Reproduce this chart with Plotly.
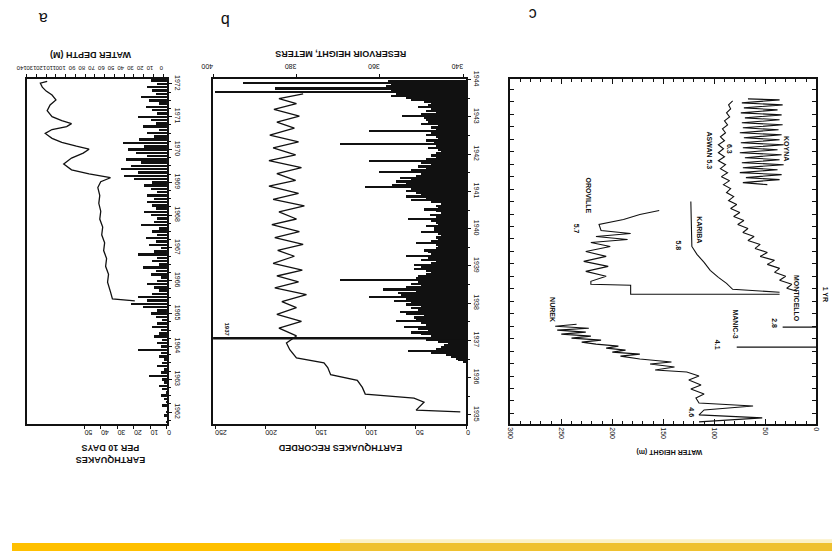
import numpy as np
import plotly.graph_objects as go

W, H = 836, 551
FONT = "Liberation Sans Narrow, Liberation Sans, Arial"
INK = "#111111"


def px(x):
    return x / W


def py(y):
    return 1 - y / H


# ---------------- Panel a : water depth + earthquakes per 10 days ----------------
a_years = [1965.39, 1965.45, 1965.66, 1965.96, 1966.2, 1966.44, 1966.68, 1966.92, 1967.16, 1967.4,
           1967.64, 1967.88, 1968.12, 1968.36, 1968.6, 1968.84, 1969.02, 1969.14, 1969.26, 1969.38,
           1969.56, 1969.74, 1969.89, 1970.01, 1970.1, 1970.22, 1970.34, 1970.49, 1970.61, 1970.7,
           1970.79, 1970.88, 1971.0, 1971.18, 1971.36, 1971.51, 1971.66, 1971.78, 1971.9, 1972.02,
           1972.08]
a_depth = [29, 52, 54, 57, 56, 59, 58, 61, 60, 63,
           62, 65, 64, 66, 65, 67, 64, 54, 76, 94,
           102, 94, 82, 76, 89, 104, 114, 121, 114, 99,
           94, 104, 114, 119, 116, 110, 114, 120, 124, 126,
           119]
a_eq_first_bin = 1961.7
a_eq_bin = 0.1
a_eq_counts = [1, 0, 2, 1, 0, 3, 1,
               2, 4, 1, 3, 5, 2, 3, 11, 4, 2, 6, 3, 2, 5, 4, 18,
               4, 6, 3, 8, 5, 4, 9, 6, 3, 7, 10, 6,
               15, 22, 12, 18, 9,
               5, 8, 12, 6, 4, 10, 7, 15, 5, 9, 6, 18, 8, 4, 11, 7, 13, 6, 9, 5, 16, 8, 6, 10, 14, 7, 9, 12,
               8, 12, 6, 10, 14, 9,
               20, 26, 18, 28, 22, 16, 25, 12, 19, 24, 14, 27, 17,
               8, 12, 5, 15, 7, 10, 18, 6, 9, 13, 5, 11, 16, 7, 9, 12, 6, 10]
a_eq_years = np.round(a_eq_first_bin + a_eq_bin * np.arange(len(a_eq_counts)), 3)
a_year_ticks = list(range(1962, 1973))
a_depth_ticks = list(range(0, 150, 10))
a_eq_ticks = [0, 10, 20, 30, 40, 50]

# ---------------- Panel b : reservoir height + earthquakes recorded ----------------
b_years = [1935.08, 1935.13, 1935.34, 1935.45, 1935.56, 1935.74, 1935.93, 1936.08, 1936.27, 1936.40,
           1936.53, 1936.75, 1936.93, 1937.12,
           1937.33, 1937.51, 1937.70, 1937.88, 1938.04, 1938.23, 1938.41, 1938.57, 1938.73, 1938.89,
           1939.07, 1939.26, 1939.42, 1939.58, 1939.76, 1939.92, 1940.11, 1940.26, 1940.45, 1940.61,
           1940.79, 1940.95, 1941.14, 1941.30, 1941.48, 1941.64, 1941.83, 1941.98, 1942.17, 1942.33,
           1942.51, 1942.70, 1942.86, 1943.02, 1943.20, 1943.36, 1943.49, 1943.62]
b_height = [340.7, 351.3, 349.4, 351.8, 363.5, 364.2, 365.4, 371.8, 372.5, 373.4,
            380.0, 381.6, 382.4, 380.0,
            384.2, 378.8, 384.7, 380.0, 383.5, 377.6, 385.2, 379.5, 384.7, 378.6,
            385.6, 380.5, 384.5, 378.4, 385.2, 379.3, 385.9, 380.0, 384.2, 378.1,
            385.6, 379.5, 386.6, 380.2, 384.7, 378.8, 386.6, 380.2, 385.6, 379.5,
            386.4, 380.5, 384.7, 379.3, 385.4, 380.0, 384.2, 378.4]
b_eq_first_bin = 1936.425
b_eq_bin = 0.05
b_eq_counts = [
    3, 8, 10, 15,
    20, 35, 58, 30, 25, 22, 18, 28,
    40, 30, 35, 45, 55, 38, 48, 62, 40, 45, 70, 50, 52, 42, 60, 66, 48, 55, 45, 60,
    55, 72, 60, 97, 65, 68, 50, 83, 60, 45, 55, 48, 126, 50, 48, 40, 35, 40, 52, 45,
    52, 35, 30, 45, 38, 60, 35, 38, 42, 30, 28, 30, 50, 35, 28, 30, 25, 28, 45, 32,
    32, 40, 28, 30, 35, 58, 30, 36, 25, 30, 42, 28, 30, 25, 35, 55, 40, 60, 45, 50,
    60, 55, 101, 74, 60, 70, 55, 66, 50, 45, 87, 55, 40, 48, 35, 45, 97, 40, 30, 35,
    30, 25, 28, 38, 30, 126, 32, 40, 28, 30, 40, 35, 97, 30, 35, 28, 45, 38, 40, 42,
    64, 45, 30, 40, 35, 48, 38, 35, 42, 55, 60, 75, 70, 250, 75, 190, 80, 75, 222, 78]
b_eq_years = np.round(b_eq_first_bin + b_eq_bin * np.arange(len(b_eq_counts)), 3)
b_year_ticks = list(range(1935, 1945))
b_height_ticks = [340, 360, 380, 400]
b_eq_ticks = [0, 50, 100, 150, 200, 250]
b_marker_year = 1937.06

# ---------------- Panel c : water height vs time for several reservoirs ----------------
nurek_t = [-12.1, -11.7, -11.4, -10.9, -10.5, -10.2, -9.7, -9.3, -8.8, -8.4, -7.9, -7.5, -7.1, -6.9, -6.6,
           -6.3, -6.1, -5.8, -5.5, -5.3, -5.1, -4.9, -4.7, -4.5, -4.3, -4.1, -3.9, -3.7, -3.5, -3.3,
           -3.1, -2.9, -2.7, -2.5, -2.3]
nurek_h = [115, 53, 115, 110, 62, 115, 118, 110, 123, 113, 125, 115, 127, 158, 139,
           163, 142, 173, 192, 173, 200, 187, 206, 194, 216, 230, 211, 240, 221, 250,
           226, 254, 223, 256, 235]
oroville_t = [0.7, 0.7, 1.6, 1.7, 2.0, 2.5, 3.0, 3.5, 4.0, 4.5, 5.0, 5.5, 5.9, 6.2, 6.5, 6.8, 7.1, 7.7,
              8.2, 8.7, 9.1]
oroville_h = [36, 182, 182, 221, 221, 206, 226, 204, 228, 206, 226, 202, 221, 185, 216, 182, 211, 213,
              189, 173, 154]
kariba_t = [0.9, 1.2, 1.8, 2.4, 3.1, 3.9, 4.7, 5.5, 10.0]
kariba_h = [36, 82, 88, 96, 104, 110, 117, 122, 123]
aswan_t = [1.0, 1.3, 1.7, 2.1, 2.5, 2.9, 3.3, 3.7, 4.1, 4.5, 4.9, 5.3, 5.7, 6.1, 6.5, 6.9, 7.3, 7.7,
           8.1, 8.5, 8.9, 9.3, 9.7, 10.1, 10.5, 10.9, 11.3, 11.7, 12.1, 12.5, 12.9, 13.3, 13.7, 14.1,
           14.5, 14.9, 15.3, 15.7, 16.1, 16.5, 16.9, 17.3, 17.7, 18.1, 18.5, 18.9, 19.3, 19.7, 20.1]
aswan_h = [19, 29, 24, 36, 30, 41, 36, 48, 41, 55, 48, 60, 55, 67, 61, 72, 67, 77, 71, 81,
           75, 84, 78, 86, 81, 88, 84, 91, 85, 93, 87, 94, 89, 96, 90, 96, 91, 96, 90, 94,
           89, 92, 87, 90, 85, 88, 84, 86, 82]
koyna_t = [11.7, 11.9, 12.2, 12.4, 12.7, 12.9, 13.2, 13.4, 13.7, 13.9, 14.2, 14.4, 14.7, 14.9, 15.2,
           15.4, 15.7, 15.9, 16.2, 16.4, 16.7, 16.9, 17.2, 17.4, 17.7, 17.9, 18.2, 18.4, 18.7, 18.9,
           19.2, 19.4, 19.7, 19.9, 20.2, 20.3]
koyna_h = [48, 72, 36, 69, 34, 75, 38, 72, 32, 73, 36, 70, 34, 75, 38, 72, 32, 74, 36, 71,
           34, 75, 37, 72, 33, 73, 36, 70, 34, 74, 38, 71, 33, 73, 36, 67]
manic_t = [-4.6, -4.6]
manic_h = [0, 78]
monticello_t = [-2.6, -2.6]
monticello_h = [0, 33]
c_height_ticks = [0, 50, 100, 150, 200, 250, 300]

fig = go.Figure()
line = dict(color=INK, width=1.3)

# panel a
fig.add_trace(go.Bar(y=a_eq_years, x=a_eq_counts, orientation="h", xaxis="x", yaxis="y",
                     width=0.075, marker=dict(color=INK, line=dict(width=0))))
fig.add_trace(go.Scatter(x=a_depth, y=a_years, xaxis="x2", yaxis="y", mode="lines", line=line))
# panel b
fig.add_trace(go.Bar(y=b_eq_years, x=b_eq_counts, orientation="h", xaxis="x3", yaxis="y2",
                     width=0.05, marker=dict(color=INK, line=dict(width=0))))
fig.add_trace(go.Scatter(x=b_height, y=b_years, xaxis="x4", yaxis="y2", mode="lines", line=line))
# panel c
for tt, hh in [(nurek_t, nurek_h), (oroville_t, oroville_h), (kariba_t, kariba_h),
               (aswan_t, aswan_h), (koyna_t, koyna_h), (manic_t, manic_h),
               (monticello_t, monticello_h)]:
    fig.add_trace(go.Scatter(x=hh, y=tt, xaxis="x5", yaxis="y3", mode="lines",
                             line=dict(color=INK, width=1.1)))

tickfont = dict(family=FONT, size=7, color=INK)
small_tickfont = dict(family=FONT, size=6, color=INK)
ax_common = dict(showgrid=False, zeroline=False, showline=True, linecolor=INK, linewidth=2,
                 ticks="outside", ticklen=3, tickcolor=INK)
ydom = [py(422), py(72)]

fig.update_layout(
    width=W, height=H, margin=dict(l=0, r=0, t=0, b=0),
    paper_bgcolor="white", plot_bgcolor="white", showlegend=False, bargap=0,
    xaxis=dict(**ax_common, domain=[px(15), px(158)], anchor="y", range=[85, 0],
               tickvals=a_eq_ticks, tickangle=180, tickfont=tickfont),
    xaxis2=dict(**ax_common, overlaying="x", side="top", anchor="y", range=[140, -4],
                tickvals=a_depth_ticks, tickangle=180, tickfont=small_tickfont),
    yaxis=dict(**ax_common, domain=ydom, anchor="x", side="right", range=[1961.64, 1972.15],
               tickvals=a_year_ticks, tickangle=90, mirror=True, tickfont=tickfont,
               minor=dict(dtick=0.25, ticks="outside", ticklen=2, tickcolor=INK)),
    xaxis3=dict(**ax_common, domain=[px(205), px(463)], anchor="y2", range=[252, 0],
                tickvals=b_eq_ticks, tickangle=180, tickfont=tickfont),
    xaxis4=dict(**ax_common, overlaying="x3", side="top", anchor="y2", range=[400, 339.3],
                tickvals=b_height_ticks, tickangle=180, tickfont=tickfont),
    yaxis2=dict(**ax_common, domain=ydom, anchor="x3", side="right", range=[1934.76, 1944.02],
                tickvals=b_year_ticks, tickangle=90, mirror=True, tickfont=tickfont,
                minor=dict(dtick=0.5, ticks="outside", ticklen=2, tickcolor=INK)),
    xaxis5=dict(showgrid=False, zeroline=False, showline=True, linecolor=INK, linewidth=2,
                domain=[px(508), px(820)], anchor="y3", range=[300, 0], tickvals=c_height_ticks,
                tickangle=90, ticks="inside", ticklen=5, tickcolor=INK, mirror="ticks",
                tickfont=tickfont, minor=dict(dtick=10, ticks="inside", ticklen=3, tickcolor=INK)),
    yaxis3=dict(showgrid=False, zeroline=False, showline=True, linecolor=INK, linewidth=2,
                domain=ydom, anchor="x5", range=[-12.3, 22.3], showticklabels=False,
                ticks="inside", ticklen=4, tickcolor=INK, mirror="ticks", tick0=0, dtick=1.25),
)

# marker line in panel b
fig.add_shape(type="line", xref="x3 domain", x0=0, x1=1, yref="y2", y0=b_marker_year,
              y1=b_marker_year, line=dict(color=INK, width=2.5))

# bottom yellow band
fig.add_shape(type="rect", xref="paper", yref="paper", x0=0, x1=0.4, y0=0, y1=py(543),
              fillcolor="#FFC000", line=dict(width=0), layer="above")
fig.add_shape(type="rect", xref="paper", yref="paper", x0=0.4, x1=1, y0=py(539), y1=py(543),
              fillcolor="#FBF1C6", line=dict(width=0), layer="above")
fig.add_shape(type="rect", xref="paper", yref="paper", x0=0.4, x1=1, y0=0, y1=py(543),
              fillcolor="#EFC12F", line=dict(width=0), layer="above")


def note(text, x, y, size=7, angle=180, bold=True):
    fig.add_annotation(text=f"<b>{text}</b>" if bold else text, x=px(x), y=py(y), xref="paper",
                       yref="paper", showarrow=False, textangle=angle,
                       font=dict(family=FONT, size=size, color=INK), xanchor="center",
                       yanchor="middle")


# panel letters
note("a", 32, 10, size=16, bold=False)
note("b", 217, 12, size=16, bold=False)
note("c", 531, 6, size=16, bold=False)

# axis titles (upside down)
note("WATER DEPTH (M)", 80, 47, size=9)
note("EARTHQUAKES<br>PER 10 DAYS", 100, 452, size=9)
note("RESERVOIR HEIGHT, METERS", 335, 46, size=9)
note("EARTHQUAKES RECORDED", 335, 447, size=9)
note("WATER HEIGHT (m)", 670, 450, size=7)
note("1937", 219, 326, size=6, angle=90)

# reservoir labels in panel c
for txt, x, y in [("NUREK", 551, 306), ("OROVILLE", 588, 190), ("5.7", 575, 224),
                  ("KARIBA", 701, 225), ("5.8", 679, 241), ("ASWAN 5.3", 711, 145),
                  ("6.3", 731, 143), ("KOYNA", 789, 143), ("MANIC-3", 738, 321),
                  ("4.1", 720, 342), ("MONTICELLO", 800, 295), ("2.8", 778, 320),
                  ("4.6", 693, 410), ("1 YR", 829, 290)]:
    note(txt, x, y, size=7, angle=90)

fig.write_html("out.html")
